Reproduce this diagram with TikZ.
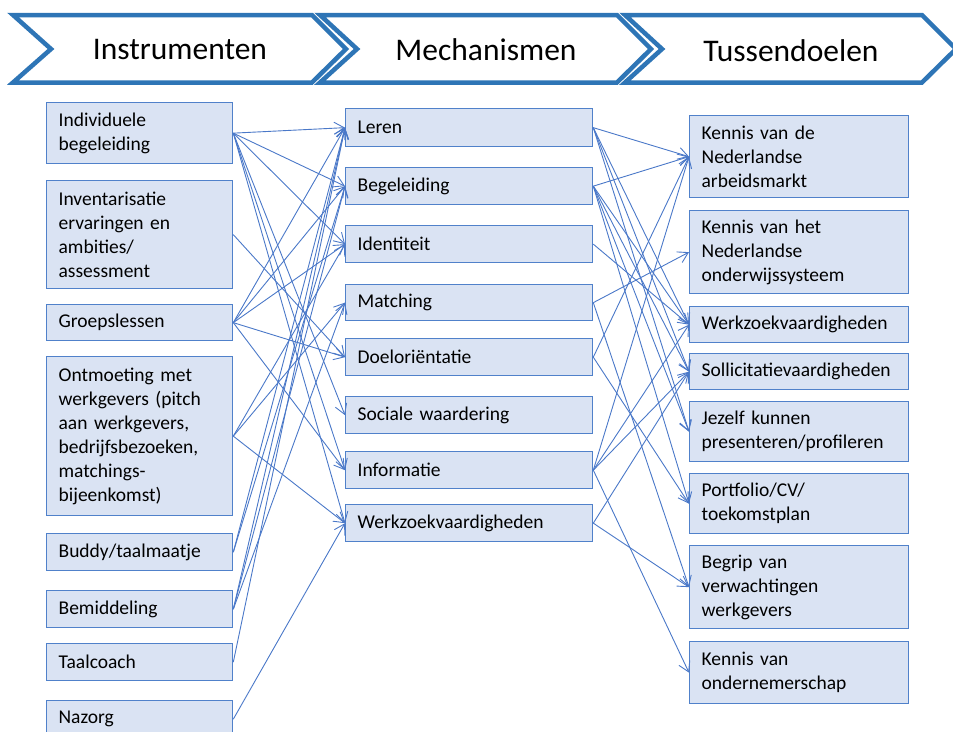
\documentclass[tikz,border=0pt]{standalone}
\usepackage{fontspec}
\setmainfont{Carlito}
\usetikzlibrary{arrows.meta}
\definecolor{boxfill}{HTML}{DAE3F3}
\definecolor{boxline}{HTML}{5081CA}
\definecolor{chev}{HTML}{2E75B6}
\definecolor{connc}{HTML}{4A78C8}
\begin{document}
\begin{tikzpicture}[x=1pt,y=-1pt,
  box/.style={draw=boxline, fill=boxfill, line width=1.3pt, inner xsep=12pt, inner ysep=0pt, align=left, anchor=north west, font=\fontsize{19.5}{24}\selectfont},
  lc/.style={box, text width=162pt},
  mc/.style={box, text width=223pt},
  rc/.style={box, text width=195pt},
  link/.style={draw=connc, line width=0.9pt, -{Straight Barb[length=10pt,width=12pt]}},
  chevron/.style={draw=chev, line width=4.5pt, fill=white, line join=miter},
  title/.style={font=\fontsize{31.5}{36}\selectfont}]
\useasboundingbox (0,0) rectangle (953,731);
% header chevrons
\draw[chevron] (13,15) -- (312,15) -- (346,49) -- (312,82.5) -- (13,82.5) -- (51,49) -- cycle;
\draw[chevron] (320,15) -- (617,15) -- (651,49) -- (617,82.5) -- (320,82.5) -- (357,49) -- cycle;
\draw[chevron] (625,15) -- (922,15) -- (956,49) -- (922,82.5) -- (625,82.5) -- (662,49) -- cycle;
\node[title] (h1) at (180,50) {Instrumenten};
\node[title] (h2) at (486,50) {Mechanismen};
\node[title] (h3) at (791,51) {Tussendoelen};
% left column
\node[lc, minimum height=61pt] (l1) at (46,102) {Individuele\\begeleiding};
\node[lc, minimum height=108pt] (l2) at (46,180) {Inventarisatie\\ervaringen en\\ambities/\\assessment};
\node[lc, minimum height=36pt] (l3) at (46,304) {Groepslessen};
\node[lc, minimum height=159pt] (l4) at (46,356) {Ontmoeting met\\werkgevers (pitch\\aan werkgevers,\\bedrijfsbezoeken,\\matchings-\\bijeenkomst)};
\node[lc, minimum height=37pt] (l5) at (46,533) {Buddy/taalmaatje};
\node[lc, minimum height=37pt] (l6) at (46,590) {Bemiddeling};
\node[lc, minimum height=37pt] (l7) at (46,643) {Taalcoach};
\node[lc, minimum height=37pt] (l8) at (46,700) {Nazorg};
% middle column
\node[mc, minimum height=38pt] (m1) at (345,108) {Leren};
\node[mc, minimum height=37pt] (m2) at (345,167) {Begeleiding};
\node[mc, minimum height=37pt] (m3) at (345,225) {Identiteit};
\node[mc, minimum height=36pt] (m4) at (345,284) {Matching};
\node[mc, minimum height=37pt] (m5) at (345,338) {Doeloriëntatie};
\node[mc, minimum height=37pt] (m6) at (345,396) {Sociale waardering};
\node[mc, minimum height=37pt] (m7) at (345,451) {Informatie};
\node[mc, minimum height=37pt] (m8) at (345,504) {Werkzoekvaardigheden};
% right column
\node[rc, minimum height=82pt] (r1) at (689,115) {Kennis van de\\Nederlandse\\arbeidsmarkt};
\node[rc, minimum height=83pt] (r2) at (689,210) {Kennis van het\\Nederlandse\\onderwijssysteem};
\node[rc, minimum height=36pt] (r3) at (689,306) {Werkzoekvaardigheden};
\node[rc, minimum height=36pt] (r4) at (689,353) {Sollicitatievaardigheden};
\node[rc, minimum height=60pt] (r5) at (689,401) {Jezelf kunnen\\presenteren/profileren};
\node[rc, minimum height=60pt] (r6) at (689,473) {Portfolio/CV/\\toekomstplan};
\node[rc, minimum height=83pt] (r7) at (689,545) {Begrip van\\verwachtingen\\werkgevers};
\node[rc, minimum height=62pt] (r8) at (689,641) {Kennis van\\ondernemerschap};
% connectors instruments -> mechanisms
\foreach \s/\t in {l1/m1,l1/m2,l1/m3,l1/m6,l1/m7,l1/m8,
                   l2/m5,
                   l3/m1,l3/m2,l3/m3,l3/m5,l3/m7,
                   l4/m3,l4/m4,l4/m8,
                   l5/m1,l5/m2,
                   l6/m1,l6/m2,l6/m4,
                   l7/m1,
                   l8/m8}
  \draw[link] (\s.east) -- (\t.west);
% connectors mechanisms -> intermediate goals
\foreach \s/\t in {m1/r1,m1/r3,m1/r4,m1/r5,
                   m2/r1,m2/r3,m2/r4,m2/r5,m2/r6,
                   m3/r3,
                   m4/r2,m4/r7,
                   m5/r1,m5/r6,
                   m7/r1,m7/r3,m7/r4,m7/r8,
                   m8/r4,m8/r7}
  \draw[link] (\s.east) -- (\t.west);
\end{tikzpicture}
\end{document}
